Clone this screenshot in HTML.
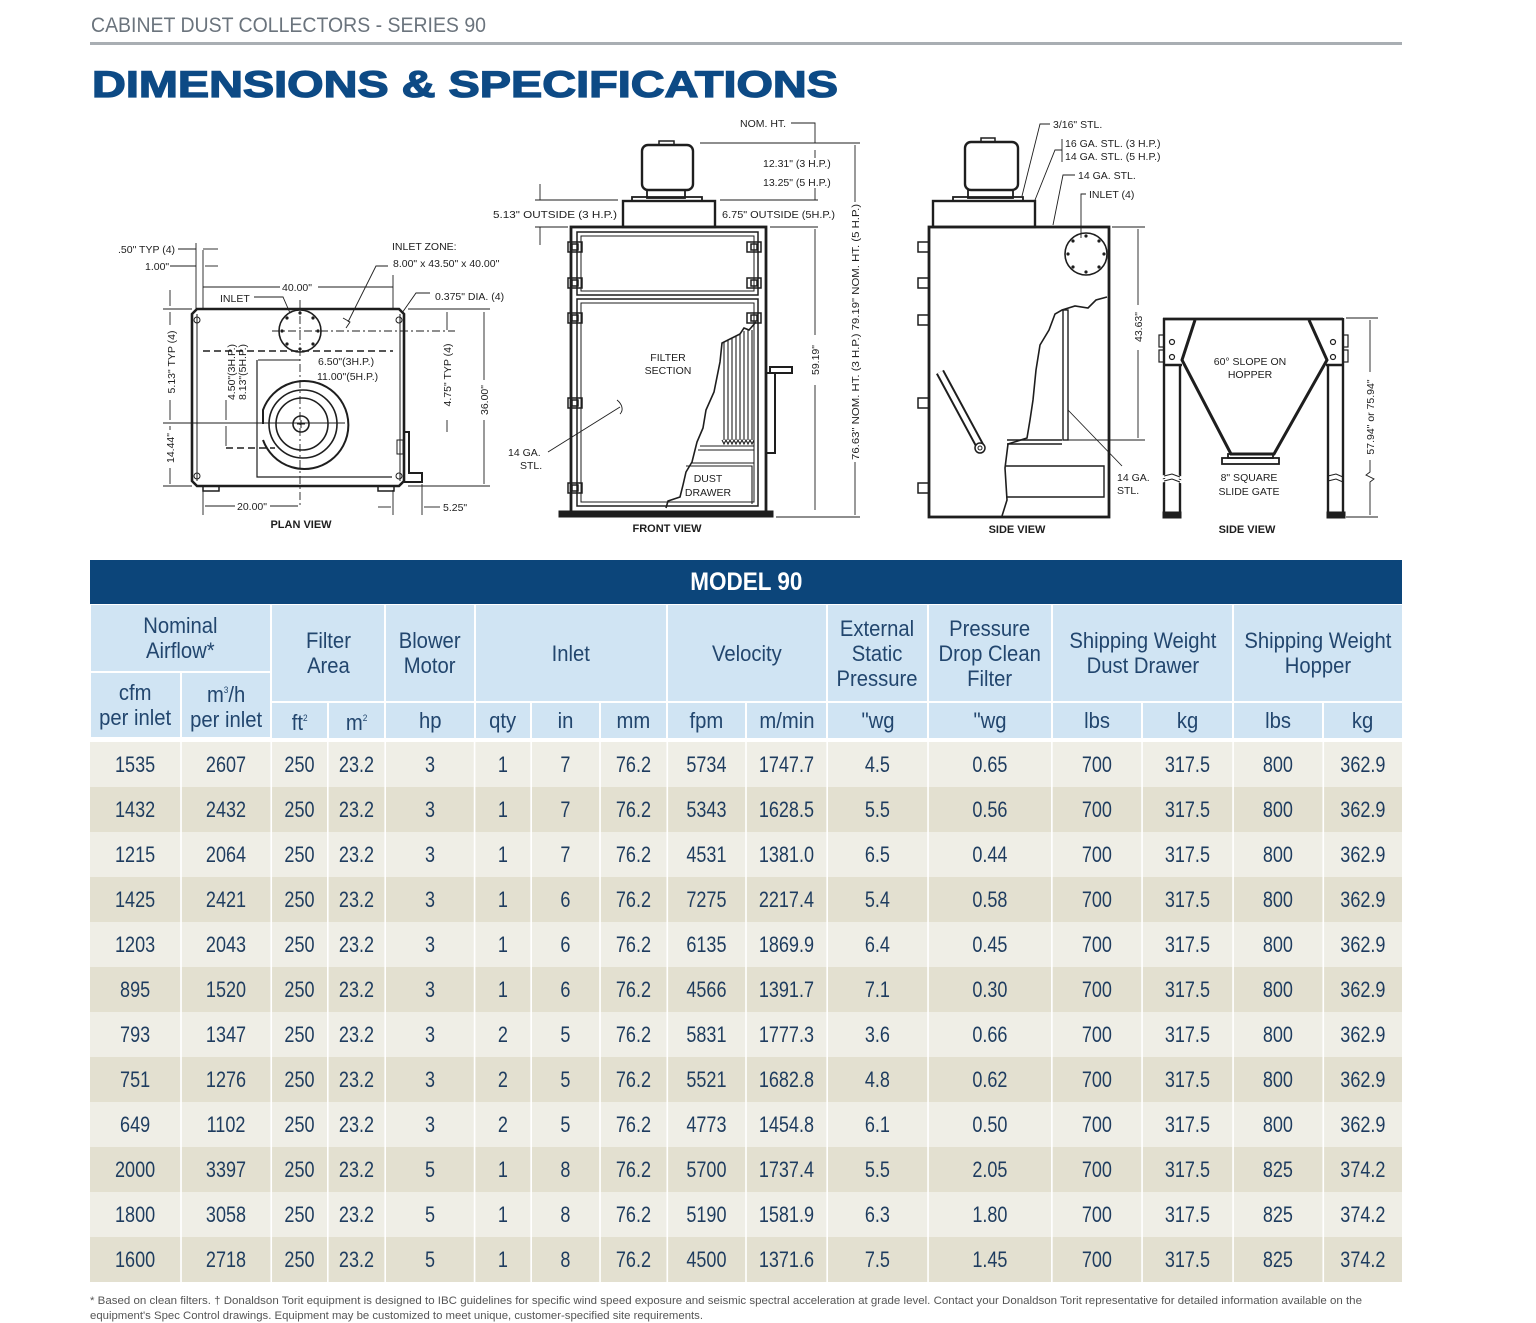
<!DOCTYPE html>
<html><head><meta charset="utf-8">
<style>
*{margin:0;padding:0;box-sizing:border-box}
html,body{width:1536px;height:1323px;background:#fff;overflow:hidden}
body{position:relative;font-family:"Liberation Sans",Arial,sans-serif}
svg.bg{position:absolute;left:0;top:0}
.bar{position:absolute;left:90px;top:560px;width:1312px;height:44px;background:#0c457a;color:#fff;font-weight:bold;font-size:25px;text-align:center;line-height:45px}
.bar span{display:inline-block;transform:scaleX(.9)}
.h{position:absolute;background:#d0e4f3;color:#22466e;font-size:22px;line-height:25px;display:flex;align-items:center;justify-content:center;text-align:center}
.h span{display:inline-block;transform:scaleX(.92);white-space:nowrap}
.h sup{font-size:9px;vertical-align:9px}
.data{position:absolute;left:90px;top:742px;width:1600px;transform:scaleX(.82);transform-origin:0 0}
table{border-collapse:collapse;table-layout:fixed;width:1600px}
td{height:45px;padding:0;text-align:center;vertical-align:middle;font-size:22px;color:#1e3c5f;border-left:2.4px solid #fff;white-space:nowrap}
td:first-child{border-left:none}
tr.a td{background:#efeee6}
tr.b td{background:#e3e0d0}
</style></head>
<body>
<svg class="bg" width="1536" height="1323" viewBox="0 0 1536 1323" font-family="Liberation Sans, Arial, sans-serif">
<text x="91" y="32" font-size="21" fill="#6b747d" textLength="395" lengthAdjust="spacingAndGlyphs">CABINET DUST COLLECTORS - SERIES 90</text>
<rect x="90" y="42" width="1312" height="3" fill="#a9aeb3"/>
<text x="92" y="97" font-size="37" font-weight="bold" fill="#0d4a85" stroke="#0d4a85" stroke-width="1.3" textLength="746" lengthAdjust="spacingAndGlyphs">DIMENSIONS &amp; SPECIFICATIONS</text>

<!-- ================= PLAN VIEW ================= -->
<g stroke="#1e1e1e" fill="none">
 <path d="M197,309 L399,309 L404,314 L404,481 L399,486 L197,486 L192,481 L192,314 Z" stroke-width="2.6"/>
 <line x1="197" y1="314" x2="197" y2="481" stroke-width="1"/>
 <line x1="400" y1="314" x2="400" y2="481" stroke-width="1"/>
 <path d="M404,432 L409,432 L409,473 L422,473 L422,482 L404,482" stroke-width="2"/>
 <rect x="397" y="440" width="6" height="14" stroke-width="1"/>
 <rect x="203" y="486" width="16" height="5" stroke-width="1.5"/>
 <rect x="378" y="486" width="16" height="5" stroke-width="1.5"/>
 <circle cx="197" cy="320" r="3" stroke-width="1"/>
 <circle cx="197" cy="476" r="3" stroke-width="1"/>
 <circle cx="399" cy="320" r="3" stroke-width="1"/>
 <circle cx="399" cy="476" r="3" stroke-width="1"/>
 <!-- inlet -->
 <circle cx="300" cy="331" r="21" stroke-width="1.6"/>
 <g fill="#1e1e1e" stroke="none">
  <circle cx="300" cy="313" r="1.6"/><circle cx="300" cy="349" r="1.6"/><circle cx="282" cy="331" r="1.6"/><circle cx="318" cy="331" r="1.6"/>
  <circle cx="287" cy="318" r="1.6"/><circle cx="313" cy="318" r="1.6"/><circle cx="287" cy="344" r="1.6"/><circle cx="313" cy="344" r="1.6"/>
 </g>
 <line x1="300" y1="300" x2="300" y2="506" stroke-width="0.9" stroke-dasharray="8,3,2,3"/>
 <line x1="272" y1="331" x2="455" y2="331" stroke-width="0.9" stroke-dasharray="8,3,2,3"/>
 <line x1="203" y1="351" x2="393" y2="351" stroke-width="1.6" stroke-dasharray="7,4"/>
 <!-- blower -->
 <path d="M257,360 L257,477 L392,477" stroke-width="1.2"/>
 <path d="M263,424 L263,410 A44,44 0 1 1 263,440" stroke-width="2"/>
 <circle cx="303" cy="424" r="34" stroke-width="1.6"/>
 <circle cx="302" cy="424" r="26" stroke-width="1.6"/>
 <circle cx="301" cy="424" r="8" stroke-width="1.6"/>
 <line x1="297" y1="424" x2="305" y2="424" stroke-width="1"/>
 <line x1="301" y1="420" x2="301" y2="428" stroke-width="1"/>
 <line x1="163" y1="423" x2="345" y2="423" stroke-width="0.9"/>
 <line x1="226" y1="448" x2="275" y2="448" stroke-width="1.4" stroke-dasharray="7,4"/>
 <!-- dims -->
 <g stroke-width="0.9">
  <line x1="196" y1="243" x2="196" y2="310"/><line x1="203" y1="250" x2="203" y2="310"/>
  <line x1="178" y1="249" x2="196" y2="249"/><line x1="203" y1="249" x2="218" y2="249"/>
  <line x1="170" y1="266" x2="196" y2="266"/><line x1="205" y1="266" x2="218" y2="266"/>
  <line x1="203" y1="287" x2="280" y2="287"/><line x1="318" y1="287" x2="393" y2="287"/>
  <line x1="393" y1="275" x2="393" y2="310"/>
  <line x1="163" y1="309" x2="192" y2="309"/><line x1="163" y1="486" x2="192" y2="486"/>
  <line x1="170" y1="290" x2="170" y2="306"/><line x1="170" y1="312" x2="170" y2="325"/><line x1="170" y1="400" x2="170" y2="420"/>
  <line x1="170" y1="426" x2="170" y2="430"/><line x1="170" y1="468" x2="170" y2="484"/>
  <line x1="226" y1="400" x2="226" y2="420"/><line x1="226" y1="426" x2="226" y2="446"/>
  <line x1="258" y1="360" x2="300" y2="360"/>
  <line x1="408" y1="309" x2="490" y2="309"/><line x1="408" y1="486" x2="490" y2="486"/>
  <line x1="447" y1="312" x2="447" y2="330"/><line x1="447" y1="420" x2="447" y2="432"/>
  <line x1="484" y1="312" x2="484" y2="380"/><line x1="484" y1="420" x2="484" y2="484"/>
  <line x1="203" y1="490" x2="203" y2="515"/><line x1="205" y1="506" x2="235" y2="506"/><line x1="270" y1="506" x2="298" y2="506"/>
  <line x1="393" y1="490" x2="393" y2="515"/><line x1="422" y1="484" x2="422" y2="515"/>
  <line x1="378" y1="507" x2="391" y2="507"/><line x1="424" y1="507" x2="440" y2="507"/>
  <path d="M254,297 L283,297 L290,313"/>
  <path d="M430,293 L416,293 L402,313"/>
  <path d="M388,266 L376,266 L348,322 M343,318 L350,322 L346,328"/>
 </g>
</g>
<g font-size="10.5" fill="#1e1e1e">
 <text x="118" y="253">.50" TYP (4)</text>
 <text x="145" y="270">1.00"</text>
 <text x="392" y="250">INLET ZONE:</text>
 <text x="393" y="267">8.00" x 43.50" x 40.00"</text>
 <text x="282" y="291">40.00"</text>
 <text x="220" y="302">INLET</text>
 <text x="435" y="300">0.375" DIA. (4)</text>
 <text x="318" y="365">6.50"(3H.P.)</text>
 <text x="317" y="380">11.00"(5H.P.)</text>
 <text transform="translate(175,362) rotate(-90)" text-anchor="middle">5.13" TYP (4)</text>
 <text transform="translate(174,448) rotate(-90)" text-anchor="middle">14.44"</text>
 <text transform="translate(235,372) rotate(-90)" text-anchor="middle">4.50"(3H.P.)</text>
 <text transform="translate(246,372) rotate(-90)" text-anchor="middle">8.13"(5H.P.)</text>
 <text transform="translate(451,375) rotate(-90)" text-anchor="middle">4.75" TYP (4)</text>
 <text transform="translate(488,400) rotate(-90)" text-anchor="middle">36.00"</text>
 <text x="237" y="510">20.00"</text>
 <text x="443" y="511">5.25"</text>
 <text x="301" y="528" text-anchor="middle" font-weight="bold" font-size="11">PLAN VIEW</text>
</g>

<!-- ================= FRONT VIEW ================= -->
<g stroke="#1e1e1e" fill="none" stroke-width="2.4">
 <rect x="642" y="145" width="51" height="45" rx="6"/>
 <rect x="659" y="141" width="15" height="4" stroke-width="1.5"/>
 <rect x="647" y="190" width="38" height="8" stroke-width="1.8"/>
 <rect x="632" y="197" width="70" height="4" stroke-width="1.8"/>
 <rect x="623" y="201" width="92" height="26"/>
 <rect x="571" y="227" width="195" height="285" stroke-width="2.8"/>
 <rect x="559" y="511" width="214" height="6" fill="#1e1e1e" stroke-width="1"/>
 <rect x="577" y="232" width="181" height="63" stroke-width="1.5"/>
 <rect x="581" y="236" width="173" height="55" stroke-width="1"/>
 <rect x="577" y="299" width="181" height="207" stroke-width="1.5"/>
 <rect x="581" y="303" width="173" height="199" stroke-width="1"/>
 <g stroke-width="1.5">
  <rect x="568" y="242" width="14" height="10"/><rect x="572" y="244" width="6" height="6"/>
  <rect x="568" y="278" width="14" height="10"/><rect x="572" y="280" width="6" height="6"/>
  <rect x="568" y="313" width="14" height="10"/><rect x="572" y="315" width="6" height="6"/>
  <rect x="568" y="398" width="14" height="10"/><rect x="572" y="400" width="6" height="6"/>
  <rect x="568" y="483" width="14" height="10"/><rect x="572" y="485" width="6" height="6"/>
  <rect x="747" y="242" width="14" height="10"/><rect x="751" y="244" width="6" height="6"/>
  <rect x="747" y="278" width="14" height="10"/><rect x="751" y="280" width="6" height="6"/>
  <rect x="747" y="313" width="14" height="10"/><rect x="751" y="315" width="6" height="6"/>
 </g>
 <!-- cutaway -->
 <path d="M756,322 L749,330 L744,328 L740,334 L722,343 L720,362 L714,392 L706,410 L703,428 L697,442 L692,462 L686,472 L683,485 L680,497 L668,501 L666,508" stroke-width="1.6"/>
 <g stroke-width="1.1">
  <path d="M724,342 L724,440 M728,340 L728,440 M732,338 L732,440 M736,336 L736,440 M740,334 L740,440 M744,331 L744,440 M748,330 L748,440 M752,330 L752,440"/>
  <path d="M722,440 L724,444 L726,440 L728,444 L730,440 L732,444 L734,440 L736,444 L738,440 L740,444 L742,440 L744,444 L746,440 L748,444 L750,440 L752,444 L754,440"/>
  <line x1="700" y1="446" x2="754" y2="446"/><line x1="698" y1="450" x2="754" y2="450"/>
  <line x1="692" y1="463" x2="754" y2="463"/>
  <path d="M686,466 L752,466 L752,504"/>
 </g>
 <!-- handle -->
 <rect x="766" y="373" width="9" height="80" stroke-width="2"/>
 <rect x="770" y="367" width="22" height="6" stroke-width="2"/>
 <g stroke-width="0.9">
  <path d="M791,123 L815,123 L815,143"/>
  <line x1="700" y1="143" x2="860" y2="143"/>
  <line x1="815" y1="150" x2="815" y2="158"/><line x1="815" y1="188" x2="815" y2="200"/>
  <line x1="535" y1="200" x2="618" y2="200"/><line x1="720" y1="200" x2="818" y2="200"/>
  <line x1="535" y1="227" x2="568" y2="227"/><line x1="770" y1="227" x2="818" y2="227"/>
  <line x1="540" y1="184" x2="540" y2="200"/><line x1="540" y1="227" x2="540" y2="245"/>
  <line x1="815" y1="229" x2="815" y2="335"/><line x1="815" y1="385" x2="815" y2="510"/>
  <line x1="776" y1="517" x2="860" y2="517"/>
  <line x1="855" y1="145" x2="855" y2="202"/><line x1="855" y1="462" x2="855" y2="515"/>
  <line x1="548" y1="452" x2="620" y2="407"/>
  <path d="M617,400 C622,404 624,410 620,414"/>
 </g>
</g>
<g font-size="10.5" fill="#1e1e1e">
 <text x="740" y="127">NOM. HT.</text>
 <text x="763" y="167">12.31" (3 H.P.)</text>
 <text x="763" y="186">13.25" (5 H.P.)</text>
 <text x="493" y="218" textLength="124" lengthAdjust="spacingAndGlyphs">5.13" OUTSIDE (3 H.P.)</text>
 <text x="722" y="218" textLength="113" lengthAdjust="spacingAndGlyphs">6.75" OUTSIDE (5H.P.)</text>
 <text x="668" y="361" text-anchor="middle">FILTER</text>
 <text x="668" y="374" text-anchor="middle">SECTION</text>
 <text x="708" y="482" text-anchor="middle">DUST</text>
 <text x="708" y="496" text-anchor="middle">DRAWER</text>
 <text x="508" y="456">14 GA.</text>
 <text x="520" y="469">STL.</text>
 <text transform="translate(819,360) rotate(-90)" text-anchor="middle">59.19"</text>
 <text transform="translate(859,332) rotate(-90)" text-anchor="middle" textLength="256" lengthAdjust="spacingAndGlyphs">76.63" NOM. HT. (3 H.P.)  79.19" NOM. HT. (5 H.P.)</text>
 <text x="667" y="532" text-anchor="middle" font-weight="bold" font-size="11">FRONT VIEW</text>
</g>

<!-- ================= SIDE VIEW ================= -->
<g stroke="#1e1e1e" fill="none" stroke-width="2.4">
 <rect x="965" y="142" width="53" height="48" rx="6"/>
 <rect x="981" y="138" width="14" height="4" stroke-width="1.5"/>
 <rect x="968" y="190" width="45" height="8" stroke-width="1.8"/>
 <rect x="953" y="197" width="70" height="4" stroke-width="1.8"/>
 <rect x="933" y="201" width="102" height="26"/>
 <rect x="929" y="227" width="180" height="290" stroke-width="2.8"/>
 <circle cx="1086" cy="254" r="21" stroke-width="1.6"/>
 <g fill="#1e1e1e" stroke="none">
  <circle cx="1086" cy="236" r="1.6"/><circle cx="1086" cy="272" r="1.6"/><circle cx="1068" cy="254" r="1.6"/><circle cx="1104" cy="254" r="1.6"/>
  <circle cx="1073" cy="241" r="1.6"/><circle cx="1099" cy="241" r="1.6"/><circle cx="1073" cy="267" r="1.6"/><circle cx="1099" cy="267" r="1.6"/>
 </g>
 <g stroke-width="1.5">
  <rect x="918" y="242" width="11" height="10"/><rect x="918" y="278" width="11" height="10"/>
  <rect x="918" y="315" width="11" height="10"/><rect x="918" y="398" width="11" height="10"/>
  <rect x="918" y="483" width="11" height="10"/>
 </g>
 <line x1="940" y1="372" x2="980" y2="446" stroke-width="9"/>
 <line x1="940" y1="372" x2="980" y2="446" stroke="#fff" stroke-width="5"/>
 <circle cx="980" cy="448" r="5" stroke-width="1.5" fill="#fff"/>
 <circle cx="980" cy="448" r="2" stroke-width="1"/>
 <path d="M1107,297 L1096,300 L1088,308 L1075,306 L1062,310 L1055,314 L1049,330 L1040,345 L1036,370 L1033,400 L1030,420 L1027,438 L1008,444 L1005,468 L1007,500 L1002,516" stroke-width="1.6"/>
 <rect x="1063" y="310" width="5" height="130" stroke-width="1.4"/>
 <line x1="1007" y1="440" x2="1062" y2="440" stroke-width="1.4"/>
 <line x1="1007" y1="444" x2="1062" y2="444" stroke-width="1.4"/>
 <path d="M1006,466 L1104,466 L1104,497 L1006,497" stroke-width="1.4"/>
 <g stroke-width="0.9">
  <path d="M1050,124 L1040,124 L1022,196"/>
  <line x1="1062" y1="139" x2="1062" y2="162"/>
  <path d="M1062,150 L1055,150 L1035,200"/>
  <path d="M1075,175 L1063,175 L1053,225"/>
  <path d="M1086,194 L1081,194 L1081,238"/>
  <line x1="1112" y1="227" x2="1145" y2="227"/>
  <line x1="1068" y1="440" x2="1145" y2="440"/>
  <line x1="1138" y1="229" x2="1138" y2="305"/><line x1="1138" y1="350" x2="1138" y2="438"/>
  <line x1="1068" y1="410" x2="1122" y2="466"/>
 </g>
</g>
<g font-size="10.5" fill="#1e1e1e">
 <text x="1053" y="128">3/16" STL.</text>
 <text x="1065" y="147">16 GA. STL. (3 H.P.)</text>
 <text x="1065" y="160">14 GA. STL. (5 H.P.)</text>
 <text x="1078" y="179">14 GA. STL.</text>
 <text x="1089" y="198">INLET (4)</text>
 <text transform="translate(1142,327) rotate(-90)" text-anchor="middle">43.63"</text>
 <text x="1117" y="481">14 GA.</text>
 <text x="1117" y="494">STL.</text>
 <text x="1017" y="533" text-anchor="middle" font-weight="bold" font-size="11">SIDE VIEW</text>
</g>

<!-- ================= HOPPER ================= -->
<g stroke="#1e1e1e" fill="none" stroke-width="2.4">
 <line x1="1163" y1="319" x2="1343" y2="319" stroke-width="2.8"/>
 <path d="M1164,318 L1164,513 M1180,365 L1180,513 M1164,365 L1182,365"/>
 <path d="M1343,318 L1343,513 M1328,365 L1328,513 M1326,365 L1343,365"/>
 <path d="M1195,320 L1182,360 L1231,454 L1274,454 L1327,360 L1309,320" stroke-width="3"/>
 <rect x="1228" y="454" width="45" height="4" stroke-width="1.8"/>
 <rect x="1222" y="458" width="57" height="6" stroke-width="1.8"/>
 <rect x="1163" y="512" width="18" height="6" fill="#1e1e1e" stroke-width="1"/>
 <rect x="1327" y="512" width="18" height="6" fill="#1e1e1e" stroke-width="1"/>
 <path d="M1162,477 L1172,475 L1182,478 M1162,481 L1172,479 L1182,482" stroke="#fff" stroke-width="3"/>
 <path d="M1164,476 L1172,474 L1180,477 M1164,481 L1172,479 L1180,482 M1328,476 L1336,474 L1343,477 M1328,481 L1336,479 L1343,482" stroke-width="1"/>
 <g stroke-width="1.2">
  <circle cx="1172" cy="342" r="2.5"/><circle cx="1172" cy="357" r="2.5"/>
  <circle cx="1333" cy="342" r="2.5"/><circle cx="1333" cy="357" r="2.5"/>
  <rect x="1159" y="335" width="5" height="12"/><rect x="1159" y="350" width="5" height="12"/>
  <rect x="1343" y="335" width="5" height="12"/><rect x="1343" y="350" width="5" height="12"/>
 </g>
 <g stroke-width="0.9">
  <line x1="1346" y1="318" x2="1378" y2="318"/><line x1="1346" y1="517" x2="1378" y2="517"/>
  <line x1="1370" y1="320" x2="1370" y2="372"/>
  <path d="M1370,460 L1370,472 L1366,475 L1374,479 L1370,482 L1370,515"/>
 </g>
</g>
<g font-size="10.5" fill="#1e1e1e">
 <text x="1250" y="365" text-anchor="middle">60° SLOPE ON</text>
 <text x="1250" y="378" text-anchor="middle">HOPPER</text>
 <text x="1249" y="481" text-anchor="middle">8" SQUARE</text>
 <text x="1249" y="495" text-anchor="middle">SLIDE GATE</text>
 <text transform="translate(1374,417) rotate(-90)" text-anchor="middle">57.94" or 75.94"</text>
 <text x="1247" y="533" text-anchor="middle" font-weight="bold" font-size="11">SIDE VIEW</text>
</g>

<!-- footnote -->
<text x="90" y="1304" font-size="11" fill="#555" textLength="1272" lengthAdjust="spacingAndGlyphs">* Based on clean filters.    † Donaldson Torit equipment is designed to IBC guidelines for specific wind speed exposure and seismic spectral acceleration at grade level.  Contact your Donaldson Torit representative for detailed information available on the</text>
<text x="90" y="1319" font-size="11" fill="#555" textLength="613" lengthAdjust="spacingAndGlyphs">equipment's Spec Control drawings.  Equipment may be customized to meet unique, customer-specified site requirements.</text>
</svg>

<div class="bar"><span>MODEL 90</span></div>

<div class="h" style="left:91px;top:605px;width:179px;height:66px"><span>Nominal<br>Airflow*</span></div>
<div class="h" style="left:91px;top:673px;width:89px;height:64px"><span>cfm<br>per inlet</span></div>
<div class="h" style="left:182px;top:673px;width:88px;height:64px"><span>m<sup>3</sup>/h<br>per inlet</span></div>
<div class="h" style="left:272px;top:605px;width:112px;height:96px"><span>Filter<br>Area</span></div>
<div class="h" style="left:386px;top:605px;width:88px;height:96px"><span>Blower<br>Motor</span></div>
<div class="h" style="left:476px;top:605px;width:190px;height:96px"><span>Inlet</span></div>
<div class="h" style="left:668px;top:605px;width:158px;height:96px"><span>Velocity</span></div>
<div class="h" style="left:828px;top:605px;width:99px;height:96px"><span>External<br>Static<br>Pressure</span></div>
<div class="h" style="left:929px;top:605px;width:122px;height:96px"><span>Pressure<br>Drop Clean<br>Filter</span></div>
<div class="h" style="left:1053px;top:605px;width:179px;height:96px"><span>Shipping Weight<br>Dust Drawer</span></div>
<div class="h" style="left:1234px;top:605px;width:168px;height:96px"><span>Shipping Weight<br>Hopper</span></div>

<div class="h" style="left:272px;top:703px;width:55px;height:35px"><span>ft<sup>2</sup></span></div>
<div class="h" style="left:329px;top:703px;width:55px;height:35px"><span>m<sup>2</sup></span></div>
<div class="h" style="left:386px;top:703px;width:88px;height:35px"><span>hp</span></div>
<div class="h" style="left:476px;top:703px;width:54px;height:35px"><span>qty</span></div>
<div class="h" style="left:532px;top:703px;width:67px;height:35px"><span>in</span></div>
<div class="h" style="left:601px;top:703px;width:65px;height:35px"><span>mm</span></div>
<div class="h" style="left:668px;top:703px;width:77px;height:35px"><span>fpm</span></div>
<div class="h" style="left:747px;top:703px;width:79px;height:35px"><span>m/min</span></div>
<div class="h" style="left:828px;top:703px;width:99px;height:35px"><span>"wg</span></div>
<div class="h" style="left:929px;top:703px;width:122px;height:35px"><span>"wg</span></div>
<div class="h" style="left:1053px;top:703px;width:88px;height:35px"><span>lbs</span></div>
<div class="h" style="left:1143px;top:703px;width:89px;height:35px"><span>kg</span></div>
<div class="h" style="left:1234px;top:703px;width:88px;height:35px"><span>lbs</span></div>
<div class="h" style="left:1324px;top:703px;width:78px;height:35px"><span>kg</span></div>

<div class="data">
<table>
<colgroup>
<col style="width:110.98px"><col style="width:109.76px"><col style="width:69.51px"><col style="width:69.51px">
<col style="width:109.76px"><col style="width:68.29px"><col style="width:84.15px"><col style="width:81.71px">
<col style="width:96.34px"><col style="width:98.78px"><col style="width:123.17px"><col style="width:151.22px">
<col style="width:109.76px"><col style="width:110.98px"><col style="width:109.76px"><col style="width:96.32px">
</colgroup>
<tr class="a"><td>1535</td><td>2607</td><td>250</td><td>23.2</td><td>3</td><td>1</td><td>7</td><td>76.2</td><td>5734</td><td>1747.7</td><td>4.5</td><td>0.65</td><td>700</td><td>317.5</td><td>800</td><td>362.9</td></tr>
<tr class="b"><td>1432</td><td>2432</td><td>250</td><td>23.2</td><td>3</td><td>1</td><td>7</td><td>76.2</td><td>5343</td><td>1628.5</td><td>5.5</td><td>0.56</td><td>700</td><td>317.5</td><td>800</td><td>362.9</td></tr>
<tr class="a"><td>1215</td><td>2064</td><td>250</td><td>23.2</td><td>3</td><td>1</td><td>7</td><td>76.2</td><td>4531</td><td>1381.0</td><td>6.5</td><td>0.44</td><td>700</td><td>317.5</td><td>800</td><td>362.9</td></tr>
<tr class="b"><td>1425</td><td>2421</td><td>250</td><td>23.2</td><td>3</td><td>1</td><td>6</td><td>76.2</td><td>7275</td><td>2217.4</td><td>5.4</td><td>0.58</td><td>700</td><td>317.5</td><td>800</td><td>362.9</td></tr>
<tr class="a"><td>1203</td><td>2043</td><td>250</td><td>23.2</td><td>3</td><td>1</td><td>6</td><td>76.2</td><td>6135</td><td>1869.9</td><td>6.4</td><td>0.45</td><td>700</td><td>317.5</td><td>800</td><td>362.9</td></tr>
<tr class="b"><td>895</td><td>1520</td><td>250</td><td>23.2</td><td>3</td><td>1</td><td>6</td><td>76.2</td><td>4566</td><td>1391.7</td><td>7.1</td><td>0.30</td><td>700</td><td>317.5</td><td>800</td><td>362.9</td></tr>
<tr class="a"><td>793</td><td>1347</td><td>250</td><td>23.2</td><td>3</td><td>2</td><td>5</td><td>76.2</td><td>5831</td><td>1777.3</td><td>3.6</td><td>0.66</td><td>700</td><td>317.5</td><td>800</td><td>362.9</td></tr>
<tr class="b"><td>751</td><td>1276</td><td>250</td><td>23.2</td><td>3</td><td>2</td><td>5</td><td>76.2</td><td>5521</td><td>1682.8</td><td>4.8</td><td>0.62</td><td>700</td><td>317.5</td><td>800</td><td>362.9</td></tr>
<tr class="a"><td>649</td><td>1102</td><td>250</td><td>23.2</td><td>3</td><td>2</td><td>5</td><td>76.2</td><td>4773</td><td>1454.8</td><td>6.1</td><td>0.50</td><td>700</td><td>317.5</td><td>800</td><td>362.9</td></tr>
<tr class="b"><td>2000</td><td>3397</td><td>250</td><td>23.2</td><td>5</td><td>1</td><td>8</td><td>76.2</td><td>5700</td><td>1737.4</td><td>5.5</td><td>2.05</td><td>700</td><td>317.5</td><td>825</td><td>374.2</td></tr>
<tr class="a"><td>1800</td><td>3058</td><td>250</td><td>23.2</td><td>5</td><td>1</td><td>8</td><td>76.2</td><td>5190</td><td>1581.9</td><td>6.3</td><td>1.80</td><td>700</td><td>317.5</td><td>825</td><td>374.2</td></tr>
<tr class="b"><td>1600</td><td>2718</td><td>250</td><td>23.2</td><td>5</td><td>1</td><td>8</td><td>76.2</td><td>4500</td><td>1371.6</td><td>7.5</td><td>1.45</td><td>700</td><td>317.5</td><td>825</td><td>374.2</td></tr>
</table>
</div>
</body></html>
